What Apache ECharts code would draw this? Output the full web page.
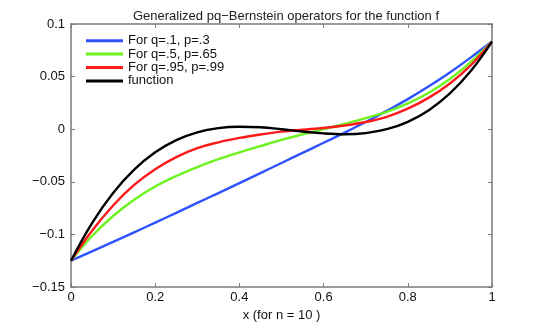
<!DOCTYPE html>
<html>
<head>
<meta charset="utf-8">
<script src="https://cdn.jsdelivr.net/npm/echarts@6/dist/echarts.min.js"></script>
<style>
html,body{margin:0;padding:0;background:#fff;}
#chart{width:545px;height:327px;}
</style>
</head>
<body>
<div id="chart"></div>
<script>
const xs = [0,0.05,0.1,0.15,0.2,0.25,0.3,0.35,0.4,0.45,0.5,0.55,0.6,0.65,0.7,0.75,0.8,0.85,0.9,0.95,1];
const blueVals  = [-0.125,-0.1161,-0.1071,-0.098,-0.0888,-0.0795,-0.0701,-0.0607,-0.0512,-0.0417,-0.0321,-0.0225,-0.0129,-0.0033,0.0068,0.0174,0.0286,0.0408,0.0539,0.0683,0.0833];
const greenVals = [-0.125,-0.1015,-0.0825,-0.067,-0.0545,-0.0445,-0.036,-0.0285,-0.022,-0.016,-0.0102,-0.005,0.0,0.005,0.0105,0.0165,0.0245,0.0347,0.0477,0.064,0.0833];
const redVals   = [-0.125,-0.0965,-0.0725,-0.053,-0.038,-0.0265,-0.018,-0.0125,-0.0083,-0.005,-0.0023,-0.0005,0.0012,0.0035,0.0068,0.0118,0.0195,0.030,0.0435,0.061,0.0833];
const funcVals  = [-0.125,-0.0893,-0.0607,-0.0385,-0.0220,-0.0104,-0.0030,0.0010,0.0023,0.0018,0.0,-0.0022,-0.0040,-0.0048,-0.0037,0.0,0.0070,0.0181,0.0340,0.0555,0.0833];
const seriesNames = ['For q=.1, p=.3','For q=.5, p=.65','For q=.95, p=.99','function'];
const xTicks = [0,0.2,0.4,0.6,0.8,1];
const yTicks = [-0.15,-0.1,-0.05,0,0.05,0.1];

const colors = ['#2f52ff','#6cf21c','#ff1a1a','#000000'];
const allVals = [blueVals, greenVals, redVals, funcVals];
const font = 'Liberation Sans, Arial, Helvetica, sans-serif';
const frame = '#7a7a7a';

function fmt(v){
  const r = Math.round(v*1000)/1000;
  const s = String(Math.abs(r));
  return (r < 0 ? '\u2212' : '') + s;
}

const chart = echarts.init(document.getElementById('chart'), null, {renderer:'canvas'});
const baseAxis = {
  axisLine:{show:true, onZero:false, lineStyle:{color:frame, width:1.5}},
  axisTick:{show:true, inside:true, length:4, lineStyle:{color:frame, width:1}},
  splitLine:{show:false}
};
chart.setOption({
  animation:false,
  backgroundColor:'#fff',
  title:{
    text:'Generalized pq\u2212Bernstein operators for the function f',
    left:281, top:5, textAlign:'center',
    textStyle:{fontFamily:font, fontSize:13, fontWeight:'normal', color:'#222'}
  },
  legend:{
    orient:'vertical', left:86, top:34, padding:0,
    itemWidth:37, itemHeight:3, itemGap:0,
    icon:'rect',
    data:seriesNames,
    textStyle:{fontFamily:font, fontSize:13, color:'#111', lineHeight:13.4}
  },
  grid:{left:71, right:53, top:24, bottom:36},
  xAxis:[
    Object.assign({}, baseAxis, {
      type:'value', min:0, max:1, interval:0.2, position:'bottom',
      name:'x (for n = 10 )', nameLocation:'middle', nameGap:22,
      nameTextStyle:{fontFamily:font, fontSize:13, color:'#111'},
      axisLabel:{fontFamily:font, fontSize:13, color:'#111', margin:4, formatter:fmt}
    }),
    Object.assign({}, baseAxis, {
      type:'value', min:0, max:1, interval:0.2, position:'top',
      axisLabel:{show:false}
    })
  ],
  yAxis:[
    Object.assign({}, baseAxis, {
      type:'value', min:-0.15, max:0.1, interval:0.05, position:'left',
      axisLabel:{fontFamily:font, fontSize:13, color:'#111', margin:6, formatter:fmt}
    }),
    Object.assign({}, baseAxis, {
      type:'value', min:-0.15, max:0.1, interval:0.05, position:'right',
      axisLabel:{show:false}
    })
  ],
  series: seriesNames.map((n,i)=>({
    name:n, type:'line', xAxisIndex:0, yAxisIndex:0,
    data: xs.map((x,j)=>[x, allVals[i][j]]),
    smooth:0.4, showSymbol:false, symbol:'none',
    lineStyle:{color:colors[i], width:2.4},
    itemStyle:{color:colors[i]},
    z: 2+i
  }))
});
</script>
</body>
</html>
